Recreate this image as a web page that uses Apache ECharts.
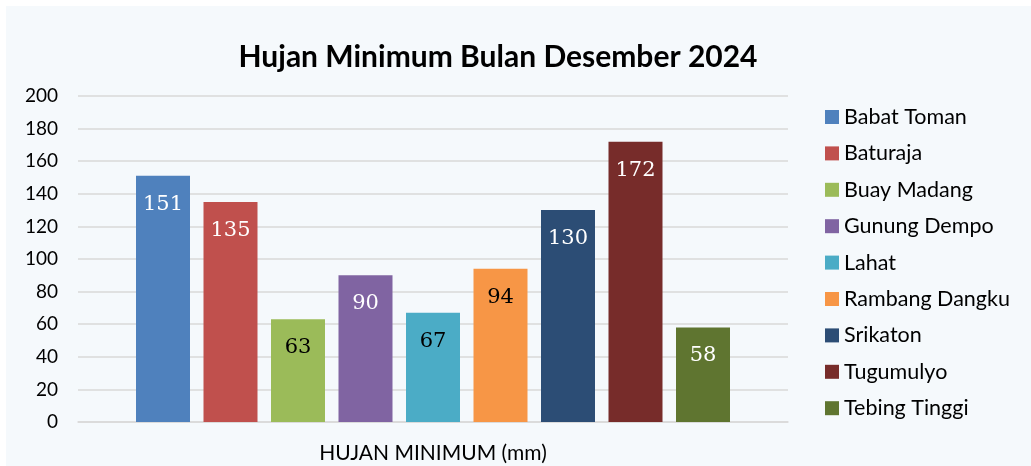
<!DOCTYPE html>
<html>
<head>
<meta charset="utf-8">
<script src="https://cdn.jsdelivr.net/npm/echarts@6/dist/echarts.min.js"></script>
<style>
  html, body { margin: 0; padding: 0; background: #ffffff; }
  #chart { position: absolute; left: 6px; top: 6px; width: 1025px; height: 460px; background: #F5F9FC; }
</style>
</head>
<body>
<div id="chart"></div>
<script>
const category = ['HUJAN MINIMUM (mm)']
const stations = ['Babat Toman', 'Baturaja', 'Buay Madang', 'Gunung Dempo', 'Lahat', 'Rambang Dangku', 'Srikaton', 'Tugumulyo', 'Tebing Tinggi']
const values = [151, 135, 63, 90, 67, 94, 130, 172, 58]
const colors = ['#4F81BD', '#C0504D', '#9BBB59', '#8064A2', '#4BACC6', '#F79646', '#2C4D75', '#772C2A', '#5F7530']
const labelColors = ['#fff', '#fff', '#000', '#fff', '#000', '#000', '#fff', '#fff', '#fff']

const chart = echarts.init(document.getElementById('chart'))
const series = []
for (let i = 0; i < stations.length; i++) {
  series.push({
    name: stations[i],
    type: 'bar',
    data: [values[i]],
    barWidth: 54,
    barGap: '25%',
    itemStyle: { color: colors[i] },
    label: {
      show: true,
      position: 'insideTop',
      distance: 18,
      color: labelColors[i],
      fontFamily: 'DejaVu Serif',
      fontSize: 21
    }
  })
}
chart.setOption({
  animation: false,
  title: {
    text: 'Hujan Minimum Bulan Desember 2024',
    left: 487,
    top: 31,
    textAlign: 'center',
    textStyle: { fontFamily: 'Lato', fontWeight: 'bold', fontSize: 30, color: '#000' }
  },
  legend: {
    orient: 'vertical',
    left: 814,
    top: 95,
    itemWidth: 14,
    itemHeight: 14,
    itemGap: 14.4,
    icon: 'rect',
    textStyle: { fontFamily: 'Lato', fontSize: 21.5, color: '#000' }
  },
  grid: { left: 72, right: 243, top: 90, bottom: 44 },
  xAxis: {
    type: 'category',
    data: category,
    axisTick: { show: false },
    axisLine: { lineStyle: { color: '#D9D9D9', width: 1.5 } },
    axisLabel: { color: '#000', fontFamily: 'Lato', fontSize: 21, margin: 21 }
  },
  yAxis: {
    type: 'value',
    min: 0,
    max: 200,
    interval: 20,
    axisLine: { show: false },
    axisTick: { show: false },
    splitLine: { lineStyle: { color: '#D9D9D9', width: 1.5 } },
    axisLabel: { color: '#000', fontFamily: 'Lato', fontSize: 19, margin: 20 }
  },
  series: series
})
</script>
</body>
</html>
